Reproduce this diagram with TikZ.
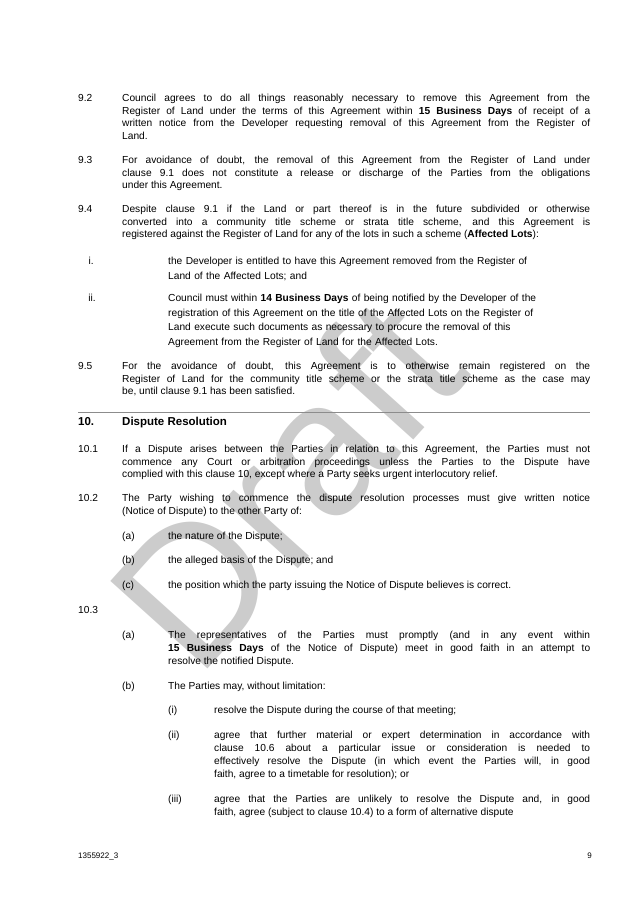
\documentclass[tikz,border=0pt]{standalone}
\usepackage{fontspec}
\setmainfont{Liberation Sans}
\begin{document}
\begin{tikzpicture}[x=1pt,y=-1pt,
  txt/.style={anchor=north west,inner sep=0pt,font=\fontsize{10.2}{12.6}\selectfont},
  just/.style={txt,text width=#1,align=justify},
  rag/.style={txt,text width=#1,align=left}]
\useasboundingbox[fill=white] (0,0) rectangle (637,902);
\node[rotate=48,text=black!20,font=\fontsize{190}{190}\selectfont,inner sep=0pt] (wm) at (285,482) {Draft};
\def\numb#1#2{\node[txt] at (78,#1) {#2};}
\numb{94}{9.2}
\node[just=468pt] (p92) at (122,94) {Council agrees to do all things reasonably necessary to remove this Agreement from the\linebreak Register of Land under the terms of this Agreement within \textbf{15 Business Days} of receipt of a\linebreak written notice from the Developer requesting removal of this Agreement from the Register of\linebreak Land.};
\numb{156}{9.3}
\node[just=468pt] (p93) at (122,156) {For avoidance of doubt, the removal of this Agreement from the Register of Land under\linebreak clause 9.1 does not constitute a release or discharge of the Parties from the obligations\linebreak under this Agreement.};
\numb{205}{9.4}
\node[just=468pt] (p94) at (122,205) {Despite clause 9.1 if the Land or part thereof is in the future subdivided or otherwise\linebreak converted into a community title scheme or strata title scheme, and this Agreement is\linebreak registered against the Register of Land for any of the lots in such a scheme (\textbf{Affected Lots}):};
\node[txt,anchor=north east] at (94,257) {i.};
\node[txt,font=\fontsize{10.2}{14.5}\selectfont,text width=400pt,align=left] (pi) at (168,257) {the Developer is entitled to have this Agreement removed from the Register of\\ Land of the Affected Lots; and};
\node[txt,anchor=north east] at (96,294) {ii.};
\node[txt,font=\fontsize{10.2}{14.7}\selectfont,text width=400pt,align=left] (pii) at (168,294) {Council must within \textbf{14 Business Days} of being notified by the Developer of the\\ registration of this Agreement on the title of the Affected Lots on the Register of\\ Land execute such documents as necessary to procure the removal of this\\ Agreement from the Register of Land for the Affected Lots.};
\numb{362}{9.5}
\node[just=468pt] (p95) at (122,362) {For the avoidance of doubt, this Agreement is to otherwise remain registered on the\linebreak Register of Land for the community title scheme or the strata title scheme as the case may\linebreak be, until clause 9.1 has been satisfied.};
\coordinate (hl) at (78,412); \coordinate (hr) at (590,412);
\draw[black!45,line width=0.8pt] (hl) -- (hr);
\node[txt,font=\fontsize{11.5}{13}\bfseries] (h10) at (78,417) {10.};
\node[txt,font=\fontsize{11.5}{13}\bfseries] (hd) at (122,417) {Dispute Resolution};
\numb{445}{10.1}
\node[just=468pt] (p101) at (122,445) {If a Dispute arises between the Parties in relation to this Agreement, the Parties must not\linebreak commence any Court or arbitration proceedings unless the Parties to the Dispute have\linebreak complied with this clause 10, except where a Party seeks urgent interlocutory relief.};
\numb{494}{10.2}
\node[just=468pt] (p102) at (122,494) {The Party wishing to commence the dispute resolution processes must give written notice\linebreak (Notice of Dispute) to the other Party of:};
\node[txt] at (122,532) {(a)}; \node[txt] (a1) at (168,532) {the nature of the Dispute;};
\node[txt] at (122,556) {(b)}; \node[txt] (b1) at (168,556) {the alleged basis of the Dispute; and};
\node[txt] at (122,581) {(c)}; \node[txt] (c1) at (168,581) {the position which the party issuing the Notice of Dispute believes is correct.};
\numb{606}{10.3}
\node[txt] at (122,631) {(a)};
\node[just=422pt,font=\fontsize{10.2}{13}\selectfont] (a2) at (168,631) {The representatives of the Parties must promptly (and in any event within\linebreak \textbf{15 Business Days} of the Notice of Dispute) meet in good faith in an attempt to\linebreak resolve the notified Dispute.};
\node[txt] at (122,682) {(b)}; \node[txt] (b2) at (168,682) {The Parties may, without limitation:};
\node[txt] at (168,706) {(i)}; \node[txt] (i2) at (214,706) {resolve the Dispute during the course of that meeting;};
\node[txt] at (168,731) {(ii)};
\node[just=376pt,font=\fontsize{10.2}{13}\selectfont] (ii2) at (214,731) {agree that further material or expert determination in accordance with\linebreak clause 10.6 about a particular issue or consideration is needed to\linebreak effectively resolve the Dispute (in which event the Parties will, in good\linebreak faith, agree to a timetable for resolution); or};
\node[txt] at (168,795) {(iii)};
\node[just=376pt,font=\fontsize{10.2}{13}\selectfont] (iii2) at (214,795) {agree that the Parties are unlikely to resolve the Dispute and, in good\linebreak faith, agree (subject to clause 10.4) to a form of alternative dispute};
\node[txt,font=\fontsize{8}{9}\selectfont] (ft) at (78,853) {1355922\_3};
\node[txt,font=\fontsize{8}{9}\selectfont,anchor=north east] (pg) at (592,853) {9};
\end{tikzpicture}
\end{document}
